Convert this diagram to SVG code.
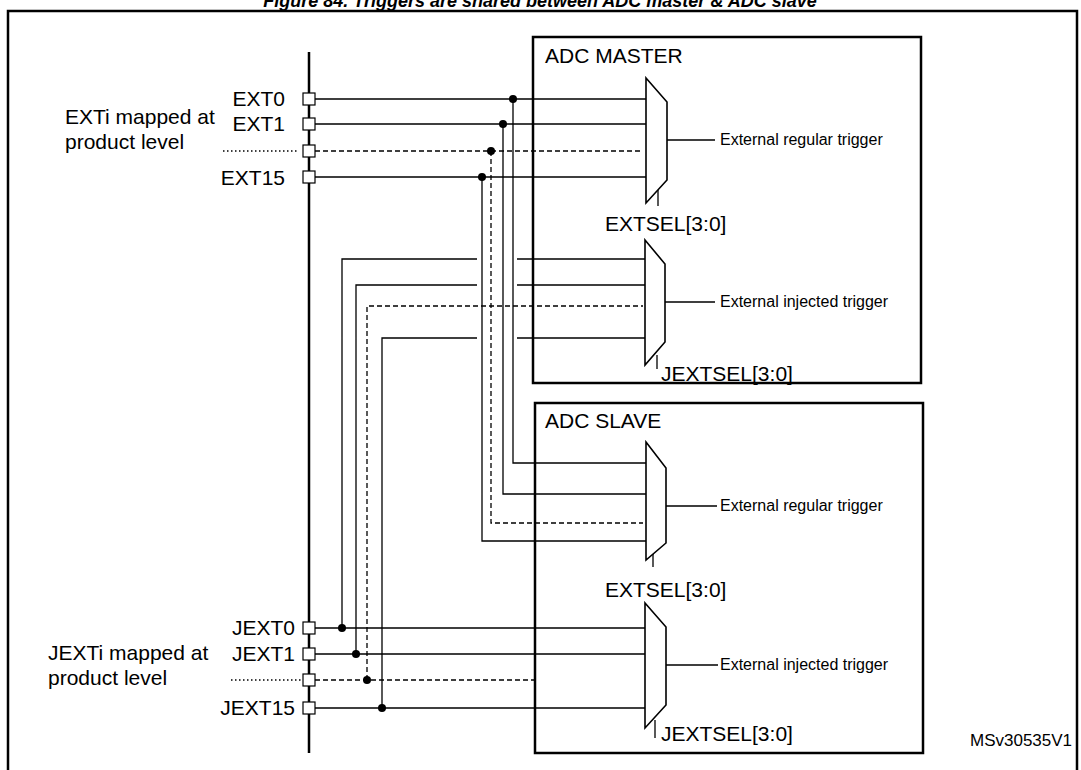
<svg xmlns="http://www.w3.org/2000/svg" width="1081" height="770" viewBox="0 0 1081 770">
<style>
text{font-family:"Liberation Sans",Arial,sans-serif;fill:#000}
.l{font-size:21px}.s{font-size:16px}
.w{stroke:#000;stroke-width:1.3;fill:none}
.d{stroke:#000;stroke-width:1.3;fill:none;stroke-dasharray:5,3}
.b{stroke:#000;stroke-width:2.5;fill:none}
.m{stroke:#000;stroke-width:1.6;fill:#fff}
.p{stroke:#000;stroke-width:1.2;fill:#fff}
</style>
<rect width="1081" height="770" fill="#fff"/>
<text x="540" y="7" text-anchor="middle" style="font-size:18px;font-weight:bold;font-style:italic">Figure 84. Triggers are shared between ADC master &amp; ADC slave</text>
<path class="b" d="M8 770V11H1077V770" stroke-width="1.6"/>
<g id="master"><rect class="b" x="533" y="37" width="388" height="346"/><text class="l" x="545" y="63">ADC MASTER</text></g>
<g id="slave"><rect class="b" x="535" y="403" width="388" height="350"/><text class="l" x="545" y="428">ADC SLAVE</text></g>
<g id="connectors">
<line class="b" x1="309" y1="52" x2="309" y2="753"/>
<path class="w" d="M315 99H646M315 124H646M315 177H646"/>
<path class="d" d="M315 151H643"/>
<path class="w" d="M513 99V463H646M503 124V494H646M482 177V541H646"/>
<path class="d" d="M491 151V523H643"/>
<path class="w" d="M315 628H645M315 654H645M315 708H645"/>
<path class="d" d="M315 680H535"/>
<path class="w" d="M342 628V259H477M517 259H645M356 654V285H477M517 285H645M382 708V338H477M517 338H645"/>
<path class="d" d="M367 680V306H643"/>
<path class="w" d="M223 151H298M231 680H302" stroke-dasharray="1.5,2.5" stroke-width="1.6"/>
<g fill="#000"><circle cx="513" cy="99" r="4"/><circle cx="503" cy="124" r="4"/><circle cx="491" cy="151" r="4"/><circle cx="482" cy="177" r="4"/>
<circle cx="342" cy="628" r="4"/><circle cx="356" cy="654" r="4"/><circle cx="367" cy="680" r="4"/><circle cx="382" cy="708" r="4"/></g>
<path class="w" d="M667 140H715M658 190V206M665 302H715M657 355V369M666 506H717M653 550V567M666 665H718M655 720V738"/>
</g>
<g id="ports"><rect class="p" x="303" y="93" width="12" height="12"/><rect class="p" x="303" y="118" width="12" height="12"/><rect class="p" x="303" y="145" width="12" height="12"/><rect class="p" x="303" y="171" width="12" height="12"/>
<rect class="p" x="303" y="622" width="12" height="12"/><rect class="p" x="303" y="648" width="12" height="12"/><rect class="p" x="303" y="674" width="12" height="12"/><rect class="p" x="303" y="702" width="12" height="12"/></g>
<g id="mux1"><path class="m" d="M646 78L667 102V180L646 203Z"/><text class="s" x="720" y="145">External regular trigger</text><text class="l" x="605" y="231">EXTSEL[3:0]</text></g>
<g id="mux2"><path class="m" d="M645 240L665 264V342L645 365Z"/><text class="s" x="720" y="307">External injected trigger</text><text class="l" x="661" y="381">JEXTSEL[3:0]</text></g>
<g id="mux3"><path class="m" d="M646 442L666 468V543L646 560Z"/><text class="s" x="720" y="511">External regular trigger</text><text class="l" x="605" y="597">EXTSEL[3:0]</text></g>
<g id="mux4"><path class="m" d="M645 603L666 627V705L645 728Z"/><text class="s" x="720" y="670">External injected trigger</text><text class="l" x="661" y="741">JEXTSEL[3:0]</text></g>
<g id="labels" class="l">
<text x="285" y="106" text-anchor="end">EXT0</text><text x="285" y="131" text-anchor="end">EXT1</text><text x="285" y="185" text-anchor="end">EXT15</text>
<text x="65" y="124">EXTi mapped at</text><text x="65" y="149">product level</text>
<text x="295" y="635" text-anchor="end">JEXT0</text><text x="295" y="661" text-anchor="end">JEXT1</text><text x="295" y="715" text-anchor="end">JEXT15</text>
<text x="48" y="660">JEXTi mapped at</text><text x="48" y="685">product level</text>
</g>
<text x="970" y="746" style="font-size:17px">MSv30535V1</text>
</svg>
